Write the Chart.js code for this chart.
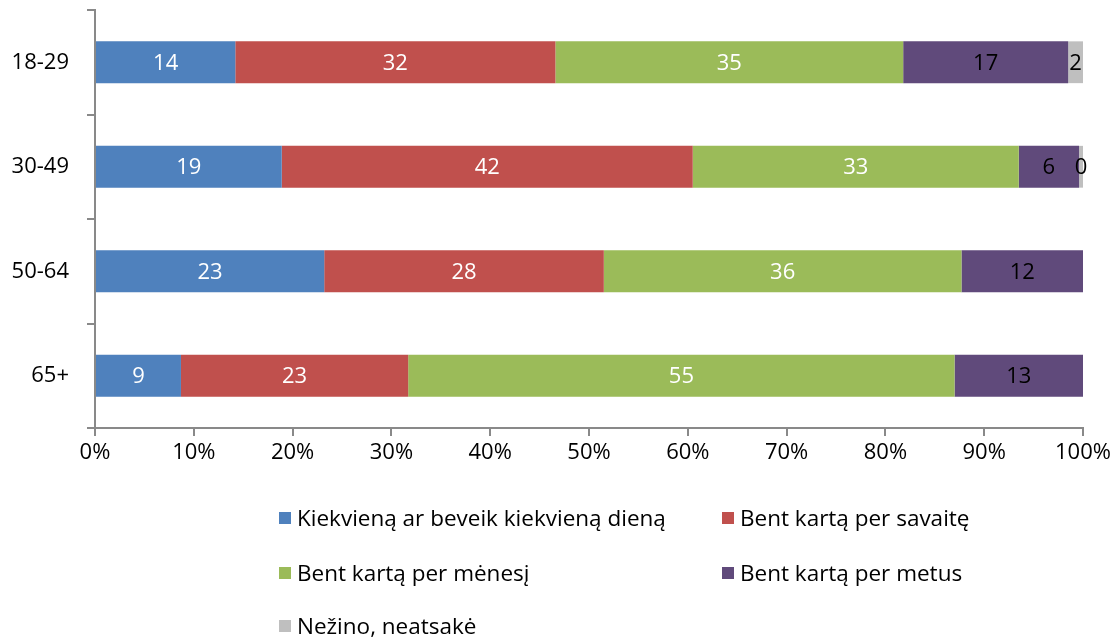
<!DOCTYPE html>
<html>
<head>
<meta charset="utf-8">
<script src="https://cdn.jsdelivr.net/npm/chart.js@4.4.1/dist/chart.umd.min.js"></script>
<style>
    body { margin: 0; background: #fff; font-family: "Open Sans", sans-serif; }
    #wrap { position: relative; width: 1117px; height: 639px; }
    #chartBox { position: absolute; left: 0; top: 0; width: 1117px; height: 490px; }
    #legend { position: absolute; left: 0; top: 0; width: 1117px; height: 639px; pointer-events: none; }
    .leg-item { position: absolute; display: flex; align-items: center; font-size: 22.5px; color: #000; white-space: nowrap; }
    .leg-box { width: 12px; height: 12px; margin-right: 6px; }
</style>
</head>
<body>
<div id="wrap">
    <div id="chartBox"><canvas id="barChart"></canvas></div>
    <div id="legend"></div>
</div>
<script>
const categories = ["18-29", "30-49", "50-64", "65+"];
const seriesNames = [
    "Kiekvieną ar beveik kiekvieną dieną",
    "Bent kartą per savaitę",
    "Bent kartą per mėnesį",
    "Bent kartą per metus",
    "Nežino, neatsakė"
];
const daily = [14.2, 18.9, 23.2, 8.7];
const weekly = [32.4, 41.6, 28.3, 23.0];
const monthly = [35.2, 33.0, 36.2, 55.3];
const yearly = [16.7, 6.1, 12.3, 13.0];
const noAnswer = [1.5, 0.4, null, null];
const xTicks = [0, 10, 20, 30, 40, 50, 60, 70, 80, 90, 100];

const colors = ["#4F81BD", "#C0504D", "#9BBB59", "#604A7B", "#BFBFBF"];
const labelColors = ["#fff", "#fff", "#fff", "#000", "#000"];
const seriesData = [daily, weekly, monthly, yearly, noAnswer];
const fontFamily = "'Open Sans', sans-serif";
const fontSize = 22;

// Value labels drawn in the middle of each segment
const barLabels = {
    id: "barLabels",
    afterDatasetsDraw(chart) {
        const ctx = chart.ctx;
        ctx.save();
        ctx.font = fontSize + "px " + fontFamily;
        ctx.textAlign = "center";
        ctx.textBaseline = "middle";
        chart.data.datasets.forEach((ds, i) => {
            chart.getDatasetMeta(i).data.forEach((bar, j) => {
                const v = ds.data[j];
                if (v === null || v === undefined) return;
                ctx.fillStyle = labelColors[i];
                ctx.fillText(String(Math.round(v)), (bar.x + bar.base) / 2, bar.y + 1);
            });
        });
        ctx.restore();
    }
};

document.addEventListener("DOMContentLoaded", function () {
    setupChart();
    setupLegend();
});

function setupChart() {
    const ctx = document.getElementById("barChart").getContext("2d");
    new Chart(ctx, {
        type: "bar",
        data: {
            labels: categories,
            datasets: seriesNames.map((name, i) => ({
                label: name,
                data: seriesData[i],
                backgroundColor: colors[i],
                borderWidth: 0,
                categoryPercentage: 1,
                barPercentage: 0.4,
            })),
        },
        plugins: [barLabels],
        options: {
            indexAxis: "y",
            responsive: true,
            maintainAspectRatio: false,
            animation: false,
            layout: { padding: { top: 10, right: 34, bottom: 0, left: 0 } },
            plugins: {
                legend: { display: false },
                tooltip: { enabled: false },
            },
            scales: {
                x: {
                    stacked: true,
                    min: 0,
                    max: 100,
                    afterFit: (scale) => {
                        scale.height = 62;
                        scale.paddingLeft = 0;
                        scale.paddingRight = 0;
                    },
                    afterBuildTicks: (scale) => { scale.ticks = xTicks.map(v => ({ value: v })); },
                    grid: {
                        drawOnChartArea: false,
                        tickLength: 8,
                        color: "#898989",
                        lineWidth: 2,
                    },
                    border: { color: "#898989", width: 2 },
                    ticks: {
                        color: "#000",
                        padding: 4,
                        font: { size: fontSize, family: fontFamily },
                        callback: (v) => v + "%",
                    },
                },
                y: {
                    stacked: true,
                    afterFit: (scale) => {
                        scale.width = 95;
                        scale.paddingTop = 0;
                        scale.paddingBottom = 0;
                    },
                    grid: {
                        drawOnChartArea: false,
                        offset: true,
                        tickLength: 8,
                        color: "#898989",
                        lineWidth: 2,
                    },
                    border: { color: "#898989", width: 2 },
                    ticks: {
                        color: "#000",
                        padding: 18,
                        font: { size: fontSize, family: fontFamily },
                    },
                },
            },
        },
    });
}

// Two-column legend below the chart
function setupLegend() {
    const legend = document.getElementById("legend");
    const spots = [[279, 518], [722, 518], [279, 573], [722, 573], [279, 626]];
    seriesNames.forEach((name, i) => {
        const item = document.createElement("div");
        item.className = "leg-item";
        item.style.left = spots[i][0] + "px";
        item.style.top = (spots[i][1] - 16) + "px";
        item.innerHTML = '<span class="leg-box" style="background:' + colors[i] + '"></span>' + name;
        legend.appendChild(item);
    });
}
</script>
</body>
</html>
